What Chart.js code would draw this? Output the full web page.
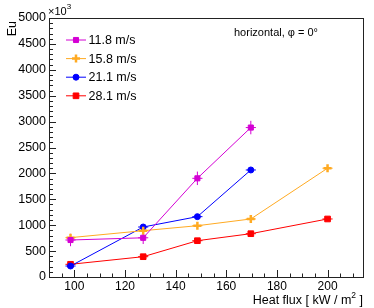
<!DOCTYPE html>
<html>
<head>
<meta http-equiv="Content-Type" content="text/html; charset=utf-8"/>
<title>Eu vs heat flux</title>
<style>
  html, body { margin: 0; padding: 0; background: #fff; }
</style>
</head>
<body>
<canvas id="myChart" width="374" height="308"></canvas>
<script src="https://cdn.jsdelivr.net/npm/chart.js"></script>
<script>
// values (Eu in units of 10^3)
const seriesLabels = ['11.8 m/s', '15.8 m/s', '21.1 m/s', '28.1 m/s'];
const heatFlux = [98.5, 127.2, 148.6, 169.7, 200];
const eu118 = [714, 757, 1905, 2885];
const eu158 = [760, 894, 990, 1120, 2100];
const eu211 = [212, 965, 1165, 2066];
const eu281 = [245, 392, 701, 836, 1120];
const errEu118 = [120, 120, 130, 130];
const errEu158 = [60, 60, 40, 40, 40];
const errEu211 = [25, 25, 25, 25];
const errEu281 = [25, 25, 25, 25, 25];
const errFlux = 2;
const xTicks = [100, 120, 140, 160, 180, 200];
const yTicks = [0, 500, 1000, 1500, 2000, 2500, 3000, 3500, 4000, 4500, 5000];

const FONT = 'Liberation Sans, Arial, Helvetica, sans-serif';

function pts(ys) {
    return ys.map((y, i) => ({ x: heatFlux[i], y: y }));
}

function series(label, ys, errs, color, style, radius, bw) {
    return {
        label: label,
        data: pts(ys),
        errY: errs,
        borderColor: color,
        backgroundColor: color,
        borderWidth: 1,
        pointStyle: style,
        pointRadius: radius,
        pointBorderWidth: bw,
        pointBackgroundColor: color,
        pointBorderColor: color,
        tension: 0,
        fill: false
    };
}

const datasets = [
    series(seriesLabels[0], eu118, errEu118, '#d400d4', 'rect', 3.6, 1),
    series(seriesLabels[1], eu158, errEu158, '#ffaa22', 'cross', 4, 2.5),
    series(seriesLabels[2], eu211, errEu211, '#0000ff', 'circle', 3, 1),
    series(seriesLabels[3], eu281, errEu281, '#ff0000', 'rect', 4, 1)
];

// error bars, drawn through the chart scales
const errorBars = {
    id: 'errorBars',
    beforeDatasetsDraw(chart) {
        const ctx = chart.ctx, xs = chart.scales.x, ys = chart.scales.y;
        ctx.save();
        chart.data.datasets.forEach(ds => {
            ctx.strokeStyle = ds.borderColor;
            ctx.lineWidth = 1;
            ds.data.forEach((p, i) => {
                const px = xs.getPixelForValue(p.x), py = ys.getPixelForValue(p.y);
                const x0 = xs.getPixelForValue(p.x - errFlux), x1 = xs.getPixelForValue(p.x + errFlux);
                const y0 = ys.getPixelForValue(p.y - ds.errY[i]), y1 = ys.getPixelForValue(p.y + ds.errY[i]);
                ctx.beginPath();
                ctx.moveTo(x0, py); ctx.lineTo(x1, py);
                ctx.moveTo(px, y0); ctx.lineTo(px, y1);
                ctx.stroke();
            });
        });
        ctx.restore();
    }
};

// ROOT style frame with inward ticks
const frame = {
    id: 'frame',
    afterDraw(chart) {
        const ctx = chart.ctx, a = chart.chartArea;
        const xs = chart.scales.x, ys = chart.scales.y;
        ctx.save();
        ctx.strokeStyle = '#222';
        ctx.lineWidth = 1;
        ctx.strokeRect(Math.round(a.left) + 0.5, Math.round(a.top) + 0.5,
            Math.round(a.right - a.left), Math.round(a.bottom - a.top));
        ctx.beginPath();
        for (let v = 90; v <= 214; v += 5) {
            const x = Math.round(xs.getPixelForValue(v)) + 0.5;
            const len = xTicks.includes(v) ? 7 : 3.5;
            ctx.moveTo(x, a.bottom); ctx.lineTo(x, a.bottom - len);
        }
        for (let v = 0; v <= 5000; v += 100) {
            const y = Math.round(ys.getPixelForValue(v)) + 0.5;
            const len = yTicks.includes(v) ? 7 : 4;
            ctx.moveTo(a.left, y); ctx.lineTo(a.left + len, y);
        }
        ctx.stroke();

        // texts
        ctx.fillStyle = '#000';
        ctx.textBaseline = 'alphabetic';
        ctx.font = '11px ' + FONT;
        ctx.textAlign = 'left';
        ctx.fillText('horizontal, \u03c6 = 0\u00b0', 234, 36);

        ctx.fillText('\u00d710', 48, 15);
        const w10 = ctx.measureText('\u00d710').width;
        ctx.font = '8px ' + FONT;
        ctx.fillText('3', 48 + w10, 9);

        // y title
        ctx.save();
        ctx.translate(12.5, 21);
        ctx.rotate(-Math.PI / 2);
        ctx.font = '12.5px ' + FONT;
        ctx.textAlign = 'right';
        ctx.textBaseline = 'middle';
        ctx.fillText('Eu', 0, 0);
        ctx.restore();

        // x title with superscript
        ctx.font = '12.5px ' + FONT;
        const p1 = 'Heat flux [ kW / m', p3 = ' ]';
        const w1 = ctx.measureText(p1).width, w3 = ctx.measureText(p3).width;
        ctx.font = '8.5px ' + FONT;
        const w2 = ctx.measureText('2').width;
        let x = 363 - (w1 + w2 + w3);
        ctx.font = '12.5px ' + FONT;
        ctx.fillText(p1, x, 304);
        ctx.font = '8.5px ' + FONT;
        ctx.fillText('2', x + w1, 298);
        ctx.font = '12.5px ' + FONT;
        ctx.fillText(p3, x + w1 + w2, 304);

        // legend
        chart.data.datasets.forEach((ds, i) => {
            const ly = 40 + i * 18.6;
            ctx.strokeStyle = ds.borderColor;
            ctx.lineWidth = 1;
            ctx.beginPath();
            ctx.moveTo(66, ly); ctx.lineTo(86, ly);
            ctx.stroke();
            ctx.fillStyle = ds.pointBackgroundColor;
            ctx.lineWidth = ds.pointBorderWidth;
            Chart.helpers.drawPoint(ctx, {
                pointStyle: ds.pointStyle, radius: ds.pointRadius,
                borderWidth: ds.pointBorderWidth, rotation: 0
            }, 76, ly);
            ctx.fillStyle = '#000';
            ctx.font = '12.5px ' + FONT;
            ctx.textAlign = 'left';
            ctx.textBaseline = 'middle';
            ctx.fillText(ds.label, 88.5, ly + 0.5);
        });
        ctx.restore();
    }
};

const config = {
    type: 'line',
    data: { datasets: datasets },
    options: {
        responsive: false,
        animation: false,
        layout: { padding: { top: 18, right: 11, left: 0, bottom: 0 } },
        plugins: { legend: { display: false }, tooltip: { enabled: false } },
        scales: {
            x: {
                type: 'linear', min: 90, max: 214,
                grid: { display: false, drawTicks: false }, border: { display: false },
                afterBuildTicks: s => { s.ticks = xTicks.map(v => ({ value: v })); },
                afterFit: s => { s.height = 31; },
                ticks: { padding: 2, color: '#000', maxRotation: 0, autoSkip: false,
                         callback: v => String(v),
                         font: { family: FONT, size: 12 } }
            },
            y: {
                type: 'linear', min: 0, max: 5000,
                grid: { display: false, drawTicks: false }, border: { display: false },
                afterBuildTicks: s => { s.ticks = yTicks.map(v => ({ value: v })); },
                afterFit: s => { s.width = 49; },
                ticks: { padding: 3, color: '#000', autoSkip: false,
                         callback: v => String(v),
                         font: { family: FONT, size: 12.5 } }
            }
        }
    },
    plugins: [errorBars, frame]
};

const myChart = new Chart(document.getElementById('myChart'), config);
</script>
</body>
</html>
